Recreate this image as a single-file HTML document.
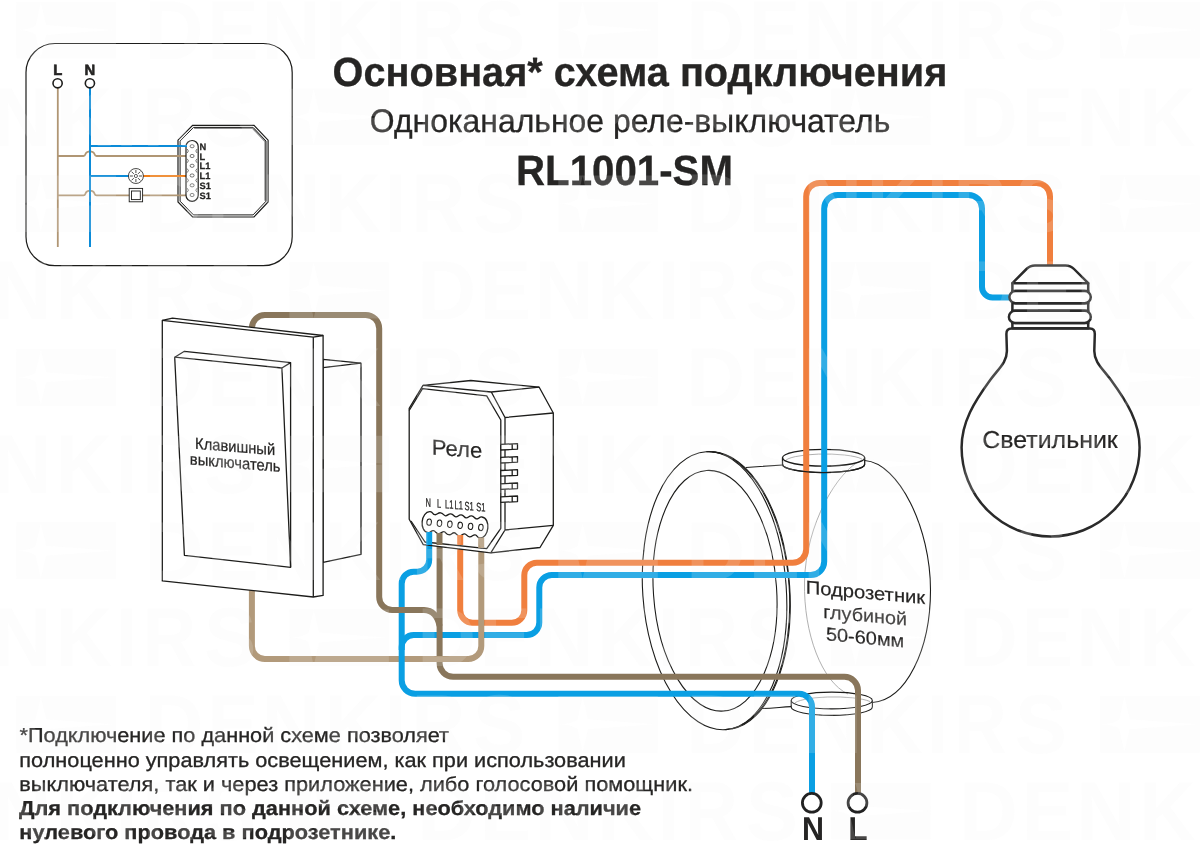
<!DOCTYPE html>
<html lang="ru">
<head>
<meta charset="utf-8">
<title>Основная схема подключения RL1001-SM</title>
<style>
html,body{margin:0;padding:0;background:#fff;}
body{width:1200px;height:845px;overflow:hidden;}
svg{display:block;will-change:transform;}
text{font-family:"Liberation Sans",sans-serif;fill:#262524;text-rendering:geometricPrecision;}
.b{font-weight:bold;}
#wm text{fill:#f2f2f2;}
.w{fill:none;stroke-width:6;stroke-linejoin:round;stroke-linecap:butt;}
.blue{stroke:#0a9fe3;}
.org{stroke:#f07f3e;}
.dbr{stroke:#89765b;}
.lbr{stroke:#b29a7b;}
.ln{fill:none;stroke:#1d1d1b;stroke-width:1.3;stroke-linejoin:round;}
.lnw{fill:#fff;stroke:#1d1d1b;stroke-width:1.3;stroke-linejoin:round;}
.thin{fill:none;stroke:#1d1d1b;stroke-width:1.1;}
.gray{fill:none;stroke:#9c9c9c;stroke-width:0.8;}
.iw{fill:none;stroke-width:1.8;}
</style>
</head>
<body>
<svg width="1200" height="845" viewBox="0 0 1200 845">
<rect width="1200" height="845" fill="#ffffff"/>

<!-- TITLE -->
<g id="title" stroke="#262524" stroke-width="0.3">
<text class="b" x="332.6" y="86.2" font-size="41" textLength="614.7" lengthAdjust="spacingAndGlyphs">Основная* схема подключения</text>
<text x="369.8" y="132" font-size="32.6" textLength="520.5" lengthAdjust="spacingAndGlyphs">Одноканальное реле-выключатель</text>
<text class="b" x="516" y="184.8" font-size="42.4" textLength="217" lengthAdjust="spacingAndGlyphs">RL1001-SM</text>
</g>

<!-- INSET -->
<g id="inset">
<rect x="26" y="43.5" width="266.2" height="222.2" rx="29" ry="29" fill="none" stroke="#1d1d1b" stroke-width="1.2"/>
<!--INSET-START-->
<text class="b" x="53.3" y="74.6" font-size="14.8" stroke="#262524" stroke-width="0.6">L</text>
<text class="b" x="84.4" y="74.6" font-size="14.8" stroke="#262524" stroke-width="0.6">N</text>
<!-- relay octagon -->
<path d="M192.6,125.3 H254 L268.1,140.2 V202 L254,217 H192.6 L178,202 V140.2 Z" fill="#fff" stroke="#1d1d1b" stroke-width="1.2"/>
<path d="M194.2,128.2 H252.6 L265.1,141.4 V200.8" fill="none" stroke="#8f8f8f" stroke-width="1.5"/>
<path d="M193.5,127.4 H253.1 L266,141 V201.2 L253.1,214.9 H193.5 L180.1,201.2 V141 Z" fill="none" stroke="#1d1d1b" stroke-width="1"/>
<!-- wires -->
<path class="iw" stroke="#b09674" d="M57.8,88 V247"/>
<path class="iw" stroke="#b09674" d="M57.8,156 H83.5 C85.3,156 85.2,154.6 85.8,153.4 C86.6,151.8 88,151.3 90,151.3 C92,151.3 93.4,151.8 94.2,153.4 C94.8,154.6 94.7,156 96.5,156 H187"/>
<path class="iw" stroke="#b09674" d="M57.8,195.4 H83.5 C85.3,195.4 85.2,194 85.8,192.8 C86.6,191.2 88,190.7 90,190.7 C92,190.7 93.4,191.2 94.2,192.8 C94.8,194 94.7,195.4 96.5,195.4 H187"/>
<path class="iw" stroke="#0b8bd8" style="stroke-width:2" d="M90,88 V247"/>
<path class="iw" stroke="#0b8bd8" style="stroke-width:2" d="M90,146 H187 M90,176 H129"/>
<path class="iw" stroke="#f07d17" style="stroke-width:2" d="M143,176 H187"/>
<circle cx="57.6" cy="83.3" r="4.6" fill="#fff" stroke="#1d1d1b" stroke-width="1.6"/>
<circle cx="89.9" cy="83.3" r="4.6" fill="#fff" stroke="#1d1d1b" stroke-width="1.6"/>
<!-- lamp symbol -->
<circle cx="135.9" cy="176" r="7.5" fill="#fff" stroke="#1d1d1b" stroke-width="0.8"/>
<circle cx="135.9" cy="176" r="1.6" fill="none" stroke="#1d1d1b" stroke-width="0.7"/>
<path d="M138.9,176 H142 M132.9,176 H129.8 M135.9,173 V169.9 M135.9,179 V182.1 M138,173.9 L140.2,171.7 M133.8,173.9 L131.6,171.7 M138,178.1 L140.2,180.3 M133.8,178.1 L131.6,180.3" fill="none" stroke="#1d1d1b" stroke-width="0.8"/>
<!-- switch symbol -->
<rect x="129.2" y="188.4" width="13.4" height="13.4" fill="#fff" stroke="#1d1d1b" stroke-width="0.9"/>
<rect x="131.5" y="191" width="8.8" height="8.6" fill="#fff" stroke="#1d1d1b" stroke-width="0.9"/>
<!-- terminal block -->
<rect x="186" y="140.5" width="12.2" height="60.8" rx="6.1" ry="6.1" fill="#fff" stroke="#1d1d1b" stroke-width="1.2"/>
<g fill="none" stroke="#1d1d1b" stroke-width="0.6">
<ellipse cx="192.1" cy="146.2" rx="2" ry="1.6"/>
<ellipse cx="192.1" cy="156" rx="2" ry="1.6"/>
<ellipse cx="192.1" cy="165.8" rx="2" ry="1.6"/>
<ellipse cx="192.1" cy="175.5" rx="2" ry="1.6"/>
<ellipse cx="192.1" cy="185.3" rx="2" ry="1.6"/>
<ellipse cx="192.1" cy="195" rx="2" ry="1.6"/>
<path d="M187.2,149 l1.2,2 l-1.2,2 M197,149 l-1.2,2 l1.2,2 M187.2,158.8 l1.2,2 l-1.2,2 M197,158.8 l-1.2,2 l1.2,2 M187.2,168.6 l1.2,2 l-1.2,2 M197,168.6 l-1.2,2 l1.2,2 M187.2,178.4 l1.2,2 l-1.2,2 M197,178.4 l-1.2,2 l1.2,2 M187.2,188.2 l1.2,2 l-1.2,2 M197,188.2 l-1.2,2 l1.2,2"/>
</g>
<path class="iw" stroke="#0b8bd8" style="stroke-width:2" d="M185,146 H187"/>
<g class="b" font-size="9.3" stroke="#262524" stroke-width="0.25">
<text x="199.6" y="149.8">N</text>
<text x="199.6" y="159.8">L</text>
<text x="199.6" y="169.4">L1</text>
<text x="199.6" y="179.1">L1</text>
<text x="199.6" y="189">S1</text>
<text x="199.6" y="199.4">S1</text>
</g>
<!--INSET-END-->
</g>

<!-- MAIN -->
<g id="main">
<!--MAIN-START-->
<!-- switch back box -->
<g id="switch-back">
<path class="lnw" d="M323.1,359.3 L361,363.2 V554.3 L323.1,562.3 Z"/>
<path class="ln" d="M323.1,367.6 L361,363.2"/>
</g>
<!-- wires under devices -->
<g id="box">
<!-- back body -->
<path class="thin" d="M864.7,460.5 C899,463 930.5,528 930.5,590 C930.5,650 906,700 872.5,702.5"/>
<path class="gray" d="M862,460 C838,470 805.5,524 804.5,582 C803.5,634 822,682 848,694"/>
<!-- front rim -->
<g transform="rotate(-4 716 590.7)">
<ellipse class="thin" cx="716" cy="590.7" rx="73.3" ry="139.3"/>
<path class="thin" d="M716,451.4 A70.3,139.3 0 0 1 716,730"/>
<path class="thin" d="M722,452 A71.6,139 0 0 1 722,729.6"/>
<ellipse class="thin" cx="715" cy="590.7" rx="61.6" ry="120.6"/>
</g>
<!-- connectors -->
<path class="thin" d="M746,467.5 L782.5,465 M762,708.5 C775,708.5 780,707 791.2,706.6"/>
<!-- top entry -->
<path class="gray" d="M785,461.5 A40,8 0 0 1 862,459"/>
<ellipse class="thin" style="stroke-width:1.3" cx="823.6" cy="457.8" rx="41.1" ry="8.4"/>
<path class="thin" style="stroke-width:1.3" d="M782.5,457.8 V464.2 A41.1,8.4 0 0 0 864.7,464.2 V457.8"/>
<!-- bottom entry -->
<path class="gray" d="M794,704 A40,8 0 0 1 870,701.5"/>
<ellipse class="thin" cx="831.8" cy="700.5" rx="40.6" ry="8.4"/>
<path class="thin" d="M791.2,700.5 V707 A40.6,8.4 0 0 0 872.4,707 V700.5"/>
</g>

<g id="wiresA">
<path class="w org" d="M460.2,533 L460.20,610.20 A12.5,12.5 0 0 0 472.70,622.70 L511.80,622.70 A12.5,12.5 0 0 0 524.30,610.20 L524.30,575.30 A12.5,12.5 0 0 1 536.80,562.80 L792.70,562.80 A13.5,13.5 0 0 0 806.20,549.30 L806.20,196.50 A13.5,13.5 0 0 1 819.70,183.00 L1036.50,183.00 A13.5,13.5 0 0 1 1050.00,196.50 L1050,266"/>
<path class="w blue" d="M1012,297.5 L992.50,297.50 A10.5,10.5 0 0 1 982.00,287.00 L982.00,208.50 A13.5,13.5 0 0 0 968.50,195.00 L837.70,195.00 A13.5,13.5 0 0 0 824.20,208.50 L824.20,561.50 A13.5,13.5 0 0 1 810.70,575.00 L551.80,575.00 A12.5,12.5 0 0 0 539.30,587.50 L539.30,622.50 A12.5,12.5 0 0 1 526.80,635.00 L413.70,635.00 A12,12 0 0 0 401.70,647.00 L401.7,650"/>
</g>
<path class="thin" style="stroke-width:1.3" d="M782.5,464.2 A41.1,8.4 0 0 0 864.7,464.2"/>
<g id="wiresB">
<path class="w dbr" d="M439.6,530 L439.60,663.30 A13.5,13.5 0 0 0 453.10,676.80 L844.50,676.80 A13.5,13.5 0 0 1 858.00,690.30 L858,793"/>
<path class="w lbr" d="M251.9,588 L251.90,646.00 A13,13 0 0 0 264.90,659.00 L468.30,659.00 A13,13 0 0 0 481.30,646.00 L481.3,535"/>
<path class="w blue" d="M429.2,530 L429.20,559.70 A12,12 0 0 1 417.20,571.70 L413.70,571.70 A12,12 0 0 0 401.70,583.70 L401.70,680.30 A13.5,13.5 0 0 0 415.20,693.80 L799.00,693.80 A13,13 0 0 1 812.00,706.80 L812,793"/>
<path class="w dbr" d="M251.9,330 L251.90,328.00 A13,13 0 0 1 264.90,315.00 L365.70,315.00 A13.5,13.5 0 0 1 379.20,328.50 L379.20,597.00 A13,13 0 0 0 392.20,610.00 L420,610 L424,610 Q436.5,610.5 439.6,626"/>
</g>
<!-- switch front -->
<g id="switch">
<path class="lnw" d="M162.3,320.3 L172.5,318.2 L323.1,335.5 V595.4 L313.3,597 L162.3,580.9 Z"/>
<path class="ln" d="M162.3,320.3 L313.3,337.2 V597 M313.3,337.2 L323.1,335.5"/>
<path class="ln" d="M174.7,357.2 L184.4,351.3 L290.6,362.6 V567.3 L184.4,555.3 Z"/>
<path class="ln" d="M174.7,357.2 L281.9,368 L290.6,567.3 M281.9,368 L290.6,362.6"/>
<g transform="translate(235.1,452) skewY(4.7)" font-size="16" text-anchor="middle" stroke="#262524" stroke-width="0.25">
<text x="0" y="0" textLength="80" lengthAdjust="spacingAndGlyphs">Клавишный</text>
<text x="0.1" y="16.2" textLength="90.7" lengthAdjust="spacingAndGlyphs">выключатель</text>
</g>
</g>
<!-- relay -->
<g id="relay">
<!-- top face + right side -->
<path class="lnw" d="M423,385.3 L470.8,380.5 L539.2,387.2 L553.3,413 V525.3 L540,547.5 L490.8,552.8 L423.3,544.7 L409.2,519.2 V408.3 Z"/>
<path class="ln" d="M423,385.3 L491.3,392 L539.2,387.2 M491.3,392 L505,417.5 L553.3,413 M505,417.5 V530 L553.3,525.3 M505,530 L490.8,552.8"/>
<path class="ln" d="M409.2,410.5 L422.5,388.7 L486.7,395.8 L500.8,420 V528.3 L486.7,548.7 L425,542 L411,521"/>
<!-- pins -->
<g class="lnw">
<path d="M500.8,444.4 L517.5,443.6 V449.2 L500.8,450 Z M512.2,443.9 V449.4"/>
<path d="M500.8,457.4 L517.5,456.6 V462.2 L500.8,463 Z M512.2,456.9 V462.4"/>
<path d="M500.8,470.5 L517.5,469.7 V475.3 L500.8,476.1 Z M512.2,470 V475.5"/>
<path d="M500.8,483.8 L517.5,483 V488.6 L500.8,489.4 Z M512.2,483.3 V488.8"/>
<path d="M500.8,496.8 L517.5,496 V501.6 L500.8,502.4 Z M512.2,496.3 V501.8"/>
</g>
<text transform="translate(431.8,454.6) skewY(4)" font-size="21.6" textLength="50.5" lengthAdjust="spacingAndGlyphs" stroke="#262524" stroke-width="0.2">Реле</text>
<!-- terminal block -->
<g transform="translate(455,524.8) rotate(5.8)">
<path class="lnw" d="M-26,-10.5 C-23,-10.5 -23.5,-8 -21,-8 C-18.5,-8 -18.5,-10.5 -15.6,-10.5 C-12.7,-10.5 -12.7,-8 -10.4,-8 C-8.1,-8 -8.1,-10.5 -5.2,-10.5 C-2.3,-10.5 -2.3,-8 0,-8 C2.3,-8 2.3,-10.5 5.2,-10.5 C8.1,-10.5 8.1,-8 10.4,-8 C12.7,-8 12.7,-10.5 15.6,-10.5 C18.5,-10.5 18.5,-8 21,-8 C23.5,-8 23,-10.5 26,-10.5 C30.5,-10.5 33,-5 33,0 C33,5 30.5,10.5 26,10.5 C23,10.5 23.5,8 21,8 C18.5,8 18.5,10.5 15.6,10.5 C12.7,10.5 12.7,8 10.4,8 C8.1,8 8.1,10.5 5.2,10.5 C2.3,10.5 2.3,8 0,8 C-2.3,8 -2.3,10.5 -5.2,10.5 C-8.1,10.5 -8.1,8 -10.4,8 C-12.7,8 -12.7,10.5 -15.6,10.5 C-18.5,10.5 -18.5,8 -21,8 C-23.5,8 -23,10.5 -26,10.5 C-30.5,10.5 -33,5 -33,0 C-33,-5 -30.5,-10.5 -26,-10.5 Z"/>
<g class="ln" style="stroke-width:1">
<ellipse cx="-26" cy="0" rx="2.3" ry="3.2"/>
<ellipse cx="-15.6" cy="0" rx="2.3" ry="3.2"/>
<ellipse cx="-5.2" cy="0" rx="2.3" ry="3.2"/>
<ellipse cx="5.2" cy="0" rx="2.3" ry="3.2"/>
<ellipse cx="15.6" cy="0" rx="2.3" ry="3.2"/>
<ellipse cx="26" cy="0" rx="2.3" ry="3.2"/>
</g>
<g transform="rotate(-5.8) translate(-455,-524.8) translate(428.3,506.7) skewY(5)" font-size="12.1" text-anchor="middle" stroke="#262524" stroke-width="0.3">
<text transform="translate(0,0) scale(0.62,1)">N</text>
<text transform="translate(10.9,0) scale(0.62,1)">L</text>
<text transform="translate(20.9,0) scale(0.62,1)">L1</text>
<text transform="translate(30.4,0) scale(0.62,1)">L1</text>
<text transform="translate(40.9,0) scale(0.62,1)">S1</text>
<text transform="translate(52.5,0) scale(0.62,1)">S1</text>
</g>
</g>
</g>
<!-- wire stubs on top of terminal bottom edge -->
<g id="stubs">
<path class="w blue" d="M429.2,532 V545"/>
<path class="w dbr" d="M439.5,533 V545"/>
<path class="w org" d="M460.2,535 V545"/>
<path class="w lbr" d="M481.2,537.5 V548"/>
</g>
<g transform="translate(865.4,598.8) skewY(5.1)" text-anchor="middle" font-size="18.6" stroke="#262524" stroke-width="0.2">
<text x="0" y="0" textLength="119.5" lengthAdjust="spacingAndGlyphs">Подрозетник</text>
<text x="-0.3" y="23" textLength="83.6" lengthAdjust="spacingAndGlyphs">глубиной</text>
<text x="-0.3" y="45.1" textLength="78.3" lengthAdjust="spacingAndGlyphs">50-60мм</text>
</g>

<g id="bulb" fill="none" stroke="#2a2a2a" stroke-width="2.5" stroke-linejoin="round" stroke-linecap="round">
<path fill="#fff" d="M1011.5,328.6 H1090 Q1094.8,328.6 1094.8,334 L1094.3,351 C1094.3,362 1102,368 1111,380 C1127,402 1139.6,422 1139.6,447.5 A89,89 0 0 1 961.6,447.5 C961.6,422 974.2,402 990.2,380 C999.2,368 1006.9,362 1006.9,351 L1006.4,334 Q1006.4,328.6 1011.5,328.6 Z"/>
<path fill="#fff" d="M1012.4,328.3 V283.2 L1026.5,269 Q1030,265.4 1035,265.4 H1065.5 Q1070.5,265.4 1074,269 L1088.2,283.2 V328.3 Z"/>
<path d="M1012.4,283.2 H1088.2 M1012.4,291 H1088.2 M1012.4,303.2 H1088.2 M1012.4,310.8 H1088.2 M1012.4,323 H1088.2"/>
<rect fill="#fff" x="1009.4" y="291" width="81.4" height="12.2" rx="6.1" ry="6.1"/>
<rect fill="#fff" x="1008.9" y="310.8" width="81.9" height="12.2" rx="6.1" ry="6.1"/>
</g>
<text x="1050" y="447.6" font-size="24.4" text-anchor="middle" textLength="135.5" lengthAdjust="spacingAndGlyphs" stroke="#262524" stroke-width="0.2">Светильник</text>

<!-- bottom terminals -->
<g id="terms">
<circle cx="811.8" cy="802.8" r="9.4" fill="#fff" stroke="#222" stroke-width="2.8"/>
<circle cx="857.5" cy="802.8" r="9.4" fill="#fff" stroke="#222" stroke-width="2.8"/>
<text class="b" x="812.9" y="840" font-size="33" text-anchor="middle" textLength="22" lengthAdjust="spacingAndGlyphs">N</text>
<text class="b" x="857.9" y="840" font-size="33" text-anchor="middle" textLength="19.4" lengthAdjust="spacingAndGlyphs">L</text>
</g>
<!--MAIN-END-->
</g>

<!-- NOTE -->
<g id="note" font-size="20.3" stroke="#262524" stroke-width="0.3">
<text x="19.5" y="742.4" textLength="429.5" lengthAdjust="spacingAndGlyphs">*Подключение по данной схеме позволяет</text>
<text x="19.3" y="766.6" textLength="606.5" lengthAdjust="spacingAndGlyphs">полноценно управлять освещением, как при использовании</text>
<text x="19.3" y="790.8" textLength="673.7" lengthAdjust="spacingAndGlyphs">выключателя, так и через приложение, либо голосовой помощник.</text>
<text class="b" x="19" y="815" textLength="622" lengthAdjust="spacingAndGlyphs">Для подключения по данной схеме, необходимо наличие</text>
<text class="b" x="19.3" y="839.2" textLength="377" lengthAdjust="spacingAndGlyphs">нулевого провода в подрозетнике.</text>
</g>

<!--WM-START-->
<g id="wm" fill="#f2f2f2" opacity="0.17" font-weight="bold" font-size="83.43" style="pointer-events:none">
<path fill-rule="evenodd" transform="translate(16.5,1.9)" d="M0,0 H99.5 V56.4 H0 Z M0.3,28.20 C10,27.70 16,26.20 19.1,23.40 L24.3,0.4 L29.7,23.20 L97.2,28.20 L29.7,33.20 L24.3,56.00 L19.1,33.00 C16,30.20 10,28.70 0.3,28.20 Z"/>
<text transform="translate(144.4,58.8) scale(0.977,1)">D</text>
<text transform="translate(207.2,58.8) scale(0.914,1)">E</text>
<text transform="translate(261.5,58.8) scale(0.977,1)">N</text>
<text transform="translate(324.9,58.8) scale(0.928,1)">K</text>
<text transform="translate(385.1,58.8) scale(0.891,1)">I</text>
<text transform="translate(411.9,58.8) scale(0.880,1)">R</text>
<text transform="translate(473.2,58.8) scale(0.934,1)">S</text>
<path fill-rule="evenodd" transform="translate(558.3,1.9)" d="M0,0 H99.5 V56.4 H0 Z M0.3,28.20 C10,27.70 16,26.20 19.1,23.40 L24.3,0.4 L29.7,23.20 L97.2,28.20 L29.7,33.20 L24.3,56.00 L19.1,33.00 C16,30.20 10,28.70 0.3,28.20 Z"/>
<text transform="translate(686.2,58.8) scale(0.977,1)">D</text>
<text transform="translate(749.0,58.8) scale(0.914,1)">E</text>
<text transform="translate(803.3,58.8) scale(0.977,1)">N</text>
<text transform="translate(866.7,58.8) scale(0.928,1)">K</text>
<text transform="translate(926.9,58.8) scale(0.891,1)">I</text>
<text transform="translate(953.7,58.8) scale(0.880,1)">R</text>
<text transform="translate(1015.0,58.8) scale(0.934,1)">S</text>
<path fill-rule="evenodd" transform="translate(1100.1,1.9)" d="M0,0 H99.5 V56.4 H0 Z M0.3,28.20 C10,27.70 16,26.20 19.1,23.40 L24.3,0.4 L29.7,23.20 L97.2,28.20 L29.7,33.20 L24.3,56.00 L19.1,33.00 C16,30.20 10,28.70 0.3,28.20 Z"/>
<text transform="translate(-7.4,145.6) scale(0.977,1)">N</text>
<text transform="translate(56.0,145.6) scale(0.928,1)">K</text>
<text transform="translate(116.2,145.6) scale(0.891,1)">I</text>
<text transform="translate(143.0,145.6) scale(0.880,1)">R</text>
<text transform="translate(204.3,145.6) scale(0.934,1)">S</text>
<path fill-rule="evenodd" transform="translate(289.4,88.7)" d="M0,0 H99.5 V56.4 H0 Z M0.3,28.20 C10,27.70 16,26.20 19.1,23.40 L24.3,0.4 L29.7,23.20 L97.2,28.20 L29.7,33.20 L24.3,56.00 L19.1,33.00 C16,30.20 10,28.70 0.3,28.20 Z"/>
<text transform="translate(417.3,145.6) scale(0.977,1)">D</text>
<text transform="translate(480.1,145.6) scale(0.914,1)">E</text>
<text transform="translate(534.4,145.6) scale(0.977,1)">N</text>
<text transform="translate(597.8,145.6) scale(0.928,1)">K</text>
<text transform="translate(658.0,145.6) scale(0.891,1)">I</text>
<text transform="translate(684.8,145.6) scale(0.880,1)">R</text>
<text transform="translate(746.1,145.6) scale(0.934,1)">S</text>
<path fill-rule="evenodd" transform="translate(831.2,88.7)" d="M0,0 H99.5 V56.4 H0 Z M0.3,28.20 C10,27.70 16,26.20 19.1,23.40 L24.3,0.4 L29.7,23.20 L97.2,28.20 L29.7,33.20 L24.3,56.00 L19.1,33.00 C16,30.20 10,28.70 0.3,28.20 Z"/>
<text transform="translate(959.1,145.6) scale(0.977,1)">D</text>
<text transform="translate(1021.9,145.6) scale(0.914,1)">E</text>
<text transform="translate(1076.2,145.6) scale(0.977,1)">N</text>
<text transform="translate(1139.6,145.6) scale(0.928,1)">K</text>
<path fill-rule="evenodd" transform="translate(16.5,175.5)" d="M0,0 H99.5 V56.4 H0 Z M0.3,28.20 C10,27.70 16,26.20 19.1,23.40 L24.3,0.4 L29.7,23.20 L97.2,28.20 L29.7,33.20 L24.3,56.00 L19.1,33.00 C16,30.20 10,28.70 0.3,28.20 Z"/>
<text transform="translate(144.4,232.4) scale(0.977,1)">D</text>
<text transform="translate(207.2,232.4) scale(0.914,1)">E</text>
<text transform="translate(261.5,232.4) scale(0.977,1)">N</text>
<text transform="translate(324.9,232.4) scale(0.928,1)">K</text>
<text transform="translate(385.1,232.4) scale(0.891,1)">I</text>
<text transform="translate(411.9,232.4) scale(0.880,1)">R</text>
<text transform="translate(473.2,232.4) scale(0.934,1)">S</text>
<path fill-rule="evenodd" transform="translate(558.3,175.5)" d="M0,0 H99.5 V56.4 H0 Z M0.3,28.20 C10,27.70 16,26.20 19.1,23.40 L24.3,0.4 L29.7,23.20 L97.2,28.20 L29.7,33.20 L24.3,56.00 L19.1,33.00 C16,30.20 10,28.70 0.3,28.20 Z"/>
<text transform="translate(686.2,232.4) scale(0.977,1)">D</text>
<text transform="translate(749.0,232.4) scale(0.914,1)">E</text>
<text transform="translate(803.3,232.4) scale(0.977,1)">N</text>
<text transform="translate(866.7,232.4) scale(0.928,1)">K</text>
<text transform="translate(926.9,232.4) scale(0.891,1)">I</text>
<text transform="translate(953.7,232.4) scale(0.880,1)">R</text>
<text transform="translate(1015.0,232.4) scale(0.934,1)">S</text>
<path fill-rule="evenodd" transform="translate(1100.1,175.5)" d="M0,0 H99.5 V56.4 H0 Z M0.3,28.20 C10,27.70 16,26.20 19.1,23.40 L24.3,0.4 L29.7,23.20 L97.2,28.20 L29.7,33.20 L24.3,56.00 L19.1,33.00 C16,30.20 10,28.70 0.3,28.20 Z"/>
<text transform="translate(-7.4,319.1) scale(0.977,1)">N</text>
<text transform="translate(56.0,319.1) scale(0.928,1)">K</text>
<text transform="translate(116.2,319.1) scale(0.891,1)">I</text>
<text transform="translate(143.0,319.1) scale(0.880,1)">R</text>
<text transform="translate(204.3,319.1) scale(0.934,1)">S</text>
<path fill-rule="evenodd" transform="translate(289.4,262.2)" d="M0,0 H99.5 V56.4 H0 Z M0.3,28.20 C10,27.70 16,26.20 19.1,23.40 L24.3,0.4 L29.7,23.20 L97.2,28.20 L29.7,33.20 L24.3,56.00 L19.1,33.00 C16,30.20 10,28.70 0.3,28.20 Z"/>
<text transform="translate(417.3,319.1) scale(0.977,1)">D</text>
<text transform="translate(480.1,319.1) scale(0.914,1)">E</text>
<text transform="translate(534.4,319.1) scale(0.977,1)">N</text>
<text transform="translate(597.8,319.1) scale(0.928,1)">K</text>
<text transform="translate(658.0,319.1) scale(0.891,1)">I</text>
<text transform="translate(684.8,319.1) scale(0.880,1)">R</text>
<text transform="translate(746.1,319.1) scale(0.934,1)">S</text>
<path fill-rule="evenodd" transform="translate(831.2,262.2)" d="M0,0 H99.5 V56.4 H0 Z M0.3,28.20 C10,27.70 16,26.20 19.1,23.40 L24.3,0.4 L29.7,23.20 L97.2,28.20 L29.7,33.20 L24.3,56.00 L19.1,33.00 C16,30.20 10,28.70 0.3,28.20 Z"/>
<text transform="translate(959.1,319.1) scale(0.977,1)">D</text>
<text transform="translate(1021.9,319.1) scale(0.914,1)">E</text>
<text transform="translate(1076.2,319.1) scale(0.977,1)">N</text>
<text transform="translate(1139.6,319.1) scale(0.928,1)">K</text>
<path fill-rule="evenodd" transform="translate(16.5,349.0)" d="M0,0 H99.5 V56.4 H0 Z M0.3,28.20 C10,27.70 16,26.20 19.1,23.40 L24.3,0.4 L29.7,23.20 L97.2,28.20 L29.7,33.20 L24.3,56.00 L19.1,33.00 C16,30.20 10,28.70 0.3,28.20 Z"/>
<text transform="translate(144.4,405.9) scale(0.977,1)">D</text>
<text transform="translate(207.2,405.9) scale(0.914,1)">E</text>
<text transform="translate(261.5,405.9) scale(0.977,1)">N</text>
<text transform="translate(324.9,405.9) scale(0.928,1)">K</text>
<text transform="translate(385.1,405.9) scale(0.891,1)">I</text>
<text transform="translate(411.9,405.9) scale(0.880,1)">R</text>
<text transform="translate(473.2,405.9) scale(0.934,1)">S</text>
<path fill-rule="evenodd" transform="translate(558.3,349.0)" d="M0,0 H99.5 V56.4 H0 Z M0.3,28.20 C10,27.70 16,26.20 19.1,23.40 L24.3,0.4 L29.7,23.20 L97.2,28.20 L29.7,33.20 L24.3,56.00 L19.1,33.00 C16,30.20 10,28.70 0.3,28.20 Z"/>
<text transform="translate(686.2,405.9) scale(0.977,1)">D</text>
<text transform="translate(749.0,405.9) scale(0.914,1)">E</text>
<text transform="translate(803.3,405.9) scale(0.977,1)">N</text>
<text transform="translate(866.7,405.9) scale(0.928,1)">K</text>
<text transform="translate(926.9,405.9) scale(0.891,1)">I</text>
<text transform="translate(953.7,405.9) scale(0.880,1)">R</text>
<text transform="translate(1015.0,405.9) scale(0.934,1)">S</text>
<path fill-rule="evenodd" transform="translate(1100.1,349.0)" d="M0,0 H99.5 V56.4 H0 Z M0.3,28.20 C10,27.70 16,26.20 19.1,23.40 L24.3,0.4 L29.7,23.20 L97.2,28.20 L29.7,33.20 L24.3,56.00 L19.1,33.00 C16,30.20 10,28.70 0.3,28.20 Z"/>
<text transform="translate(-7.4,492.7) scale(0.977,1)">N</text>
<text transform="translate(56.0,492.7) scale(0.928,1)">K</text>
<text transform="translate(116.2,492.7) scale(0.891,1)">I</text>
<text transform="translate(143.0,492.7) scale(0.880,1)">R</text>
<text transform="translate(204.3,492.7) scale(0.934,1)">S</text>
<path fill-rule="evenodd" transform="translate(289.4,435.8)" d="M0,0 H99.5 V56.4 H0 Z M0.3,28.20 C10,27.70 16,26.20 19.1,23.40 L24.3,0.4 L29.7,23.20 L97.2,28.20 L29.7,33.20 L24.3,56.00 L19.1,33.00 C16,30.20 10,28.70 0.3,28.20 Z"/>
<text transform="translate(417.3,492.7) scale(0.977,1)">D</text>
<text transform="translate(480.1,492.7) scale(0.914,1)">E</text>
<text transform="translate(534.4,492.7) scale(0.977,1)">N</text>
<text transform="translate(597.8,492.7) scale(0.928,1)">K</text>
<text transform="translate(658.0,492.7) scale(0.891,1)">I</text>
<text transform="translate(684.8,492.7) scale(0.880,1)">R</text>
<text transform="translate(746.1,492.7) scale(0.934,1)">S</text>
<path fill-rule="evenodd" transform="translate(831.2,435.8)" d="M0,0 H99.5 V56.4 H0 Z M0.3,28.20 C10,27.70 16,26.20 19.1,23.40 L24.3,0.4 L29.7,23.20 L97.2,28.20 L29.7,33.20 L24.3,56.00 L19.1,33.00 C16,30.20 10,28.70 0.3,28.20 Z"/>
<text transform="translate(959.1,492.7) scale(0.977,1)">D</text>
<text transform="translate(1021.9,492.7) scale(0.914,1)">E</text>
<text transform="translate(1076.2,492.7) scale(0.977,1)">N</text>
<text transform="translate(1139.6,492.7) scale(0.928,1)">K</text>
<path fill-rule="evenodd" transform="translate(16.5,522.6)" d="M0,0 H99.5 V56.4 H0 Z M0.3,28.20 C10,27.70 16,26.20 19.1,23.40 L24.3,0.4 L29.7,23.20 L97.2,28.20 L29.7,33.20 L24.3,56.00 L19.1,33.00 C16,30.20 10,28.70 0.3,28.20 Z"/>
<text transform="translate(144.4,579.5) scale(0.977,1)">D</text>
<text transform="translate(207.2,579.5) scale(0.914,1)">E</text>
<text transform="translate(261.5,579.5) scale(0.977,1)">N</text>
<text transform="translate(324.9,579.5) scale(0.928,1)">K</text>
<text transform="translate(385.1,579.5) scale(0.891,1)">I</text>
<text transform="translate(411.9,579.5) scale(0.880,1)">R</text>
<text transform="translate(473.2,579.5) scale(0.934,1)">S</text>
<path fill-rule="evenodd" transform="translate(558.3,522.6)" d="M0,0 H99.5 V56.4 H0 Z M0.3,28.20 C10,27.70 16,26.20 19.1,23.40 L24.3,0.4 L29.7,23.20 L97.2,28.20 L29.7,33.20 L24.3,56.00 L19.1,33.00 C16,30.20 10,28.70 0.3,28.20 Z"/>
<text transform="translate(686.2,579.5) scale(0.977,1)">D</text>
<text transform="translate(749.0,579.5) scale(0.914,1)">E</text>
<text transform="translate(803.3,579.5) scale(0.977,1)">N</text>
<text transform="translate(866.7,579.5) scale(0.928,1)">K</text>
<text transform="translate(926.9,579.5) scale(0.891,1)">I</text>
<text transform="translate(953.7,579.5) scale(0.880,1)">R</text>
<text transform="translate(1015.0,579.5) scale(0.934,1)">S</text>
<path fill-rule="evenodd" transform="translate(1100.1,522.6)" d="M0,0 H99.5 V56.4 H0 Z M0.3,28.20 C10,27.70 16,26.20 19.1,23.40 L24.3,0.4 L29.7,23.20 L97.2,28.20 L29.7,33.20 L24.3,56.00 L19.1,33.00 C16,30.20 10,28.70 0.3,28.20 Z"/>
<text transform="translate(-7.4,666.3) scale(0.977,1)">N</text>
<text transform="translate(56.0,666.3) scale(0.928,1)">K</text>
<text transform="translate(116.2,666.3) scale(0.891,1)">I</text>
<text transform="translate(143.0,666.3) scale(0.880,1)">R</text>
<text transform="translate(204.3,666.3) scale(0.934,1)">S</text>
<path fill-rule="evenodd" transform="translate(289.4,609.4)" d="M0,0 H99.5 V56.4 H0 Z M0.3,28.20 C10,27.70 16,26.20 19.1,23.40 L24.3,0.4 L29.7,23.20 L97.2,28.20 L29.7,33.20 L24.3,56.00 L19.1,33.00 C16,30.20 10,28.70 0.3,28.20 Z"/>
<text transform="translate(417.3,666.3) scale(0.977,1)">D</text>
<text transform="translate(480.1,666.3) scale(0.914,1)">E</text>
<text transform="translate(534.4,666.3) scale(0.977,1)">N</text>
<text transform="translate(597.8,666.3) scale(0.928,1)">K</text>
<text transform="translate(658.0,666.3) scale(0.891,1)">I</text>
<text transform="translate(684.8,666.3) scale(0.880,1)">R</text>
<text transform="translate(746.1,666.3) scale(0.934,1)">S</text>
<path fill-rule="evenodd" transform="translate(831.2,609.4)" d="M0,0 H99.5 V56.4 H0 Z M0.3,28.20 C10,27.70 16,26.20 19.1,23.40 L24.3,0.4 L29.7,23.20 L97.2,28.20 L29.7,33.20 L24.3,56.00 L19.1,33.00 C16,30.20 10,28.70 0.3,28.20 Z"/>
<text transform="translate(959.1,666.3) scale(0.977,1)">D</text>
<text transform="translate(1021.9,666.3) scale(0.914,1)">E</text>
<text transform="translate(1076.2,666.3) scale(0.977,1)">N</text>
<text transform="translate(1139.6,666.3) scale(0.928,1)">K</text>
<path fill-rule="evenodd" transform="translate(16.5,696.1)" d="M0,0 H99.5 V56.4 H0 Z M0.3,28.20 C10,27.70 16,26.20 19.1,23.40 L24.3,0.4 L29.7,23.20 L97.2,28.20 L29.7,33.20 L24.3,56.00 L19.1,33.00 C16,30.20 10,28.70 0.3,28.20 Z"/>
<text transform="translate(144.4,753.0) scale(0.977,1)">D</text>
<text transform="translate(207.2,753.0) scale(0.914,1)">E</text>
<text transform="translate(261.5,753.0) scale(0.977,1)">N</text>
<text transform="translate(324.9,753.0) scale(0.928,1)">K</text>
<text transform="translate(385.1,753.0) scale(0.891,1)">I</text>
<text transform="translate(411.9,753.0) scale(0.880,1)">R</text>
<text transform="translate(473.2,753.0) scale(0.934,1)">S</text>
<path fill-rule="evenodd" transform="translate(558.3,696.1)" d="M0,0 H99.5 V56.4 H0 Z M0.3,28.20 C10,27.70 16,26.20 19.1,23.40 L24.3,0.4 L29.7,23.20 L97.2,28.20 L29.7,33.20 L24.3,56.00 L19.1,33.00 C16,30.20 10,28.70 0.3,28.20 Z"/>
<text transform="translate(686.2,753.0) scale(0.977,1)">D</text>
<text transform="translate(749.0,753.0) scale(0.914,1)">E</text>
<text transform="translate(803.3,753.0) scale(0.977,1)">N</text>
<text transform="translate(866.7,753.0) scale(0.928,1)">K</text>
<text transform="translate(926.9,753.0) scale(0.891,1)">I</text>
<text transform="translate(953.7,753.0) scale(0.880,1)">R</text>
<text transform="translate(1015.0,753.0) scale(0.934,1)">S</text>
<path fill-rule="evenodd" transform="translate(1100.1,696.1)" d="M0,0 H99.5 V56.4 H0 Z M0.3,28.20 C10,27.70 16,26.20 19.1,23.40 L24.3,0.4 L29.7,23.20 L97.2,28.20 L29.7,33.20 L24.3,56.00 L19.1,33.00 C16,30.20 10,28.70 0.3,28.20 Z"/>
<text transform="translate(-7.4,839.8) scale(0.977,1)">N</text>
<text transform="translate(56.0,839.8) scale(0.928,1)">K</text>
<text transform="translate(116.2,839.8) scale(0.891,1)">I</text>
<text transform="translate(143.0,839.8) scale(0.880,1)">R</text>
<text transform="translate(204.3,839.8) scale(0.934,1)">S</text>
<path fill-rule="evenodd" transform="translate(289.4,782.9)" d="M0,0 H99.5 V56.4 H0 Z M0.3,28.20 C10,27.70 16,26.20 19.1,23.40 L24.3,0.4 L29.7,23.20 L97.2,28.20 L29.7,33.20 L24.3,56.00 L19.1,33.00 C16,30.20 10,28.70 0.3,28.20 Z"/>
<text transform="translate(417.3,839.8) scale(0.977,1)">D</text>
<text transform="translate(480.1,839.8) scale(0.914,1)">E</text>
<text transform="translate(534.4,839.8) scale(0.977,1)">N</text>
<text transform="translate(597.8,839.8) scale(0.928,1)">K</text>
<text transform="translate(658.0,839.8) scale(0.891,1)">I</text>
<text transform="translate(684.8,839.8) scale(0.880,1)">R</text>
<text transform="translate(746.1,839.8) scale(0.934,1)">S</text>
<path fill-rule="evenodd" transform="translate(831.2,782.9)" d="M0,0 H99.5 V56.4 H0 Z M0.3,28.20 C10,27.70 16,26.20 19.1,23.40 L24.3,0.4 L29.7,23.20 L97.2,28.20 L29.7,33.20 L24.3,56.00 L19.1,33.00 C16,30.20 10,28.70 0.3,28.20 Z"/>
<text transform="translate(959.1,839.8) scale(0.977,1)">D</text>
<text transform="translate(1021.9,839.8) scale(0.914,1)">E</text>
<text transform="translate(1076.2,839.8) scale(0.977,1)">N</text>
<text transform="translate(1139.6,839.8) scale(0.928,1)">K</text>
</g>
<!--WM-END-->
</svg>
</body>
</html>
